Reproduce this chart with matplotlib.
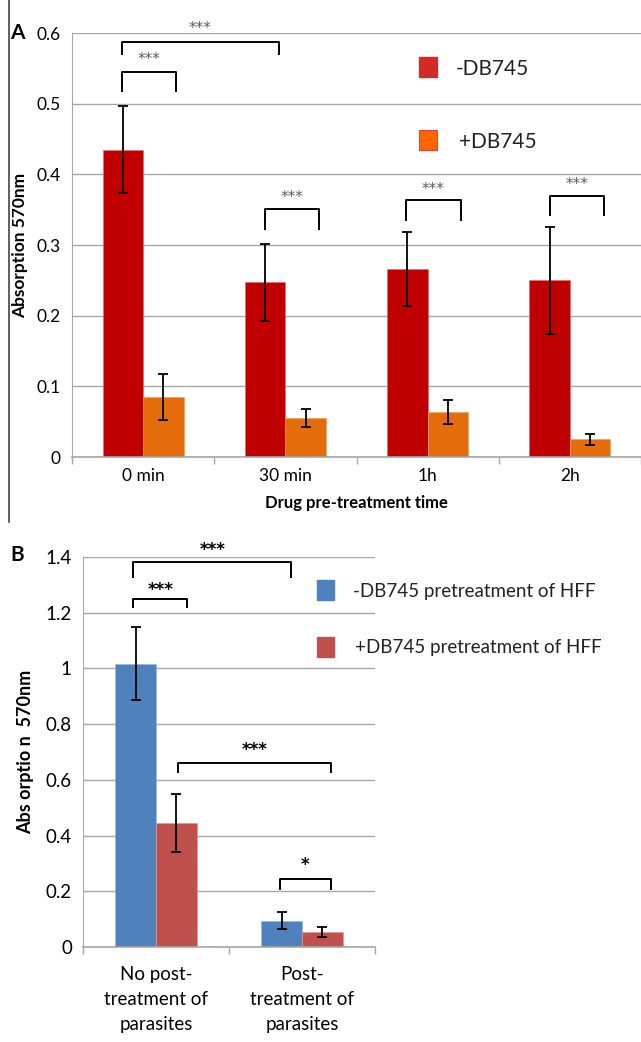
import matplotlib
matplotlib.use("Agg")
import matplotlib.pyplot as plt
from matplotlib.lines import Line2D
import numpy as np

plt.rcParams['font.family'] = ['Lato', 'DejaVu Sans']

# panel A data
times = ['0 min', '30 min', '1h', '2h']
minus_db = [0.435, 0.247, 0.266, 0.250]
minus_err = [0.062, 0.055, 0.053, 0.076]
plus_db = [0.085, 0.055, 0.063, 0.025]
plus_err = [0.033, 0.013, 0.017, 0.0075]

# panel B data
groups = ['No post-\ntreatment of\nparasites', 'Post-\ntreatment of\nparasites']
hff_minus = [1.017, 0.094]
hff_minus_err = [0.131, 0.031]
hff_plus = [0.445, 0.053]
hff_plus_err = [0.103, 0.018]

grid_col = '#a6a6a6'
W = 0.285

fig = plt.figure(figsize=(6.41, 10.42), dpi=100)


def bracket(ax, x0, x1, ytop, yleg, txt, ty, col, fs, bold=False):
    ax.plot([x0, x0, x1, x1], [yleg, ytop, ytop, yleg], color='black', lw=1.4,
            clip_on=False, solid_joinstyle='round', zorder=5)
    ax.text((x0 + x1) / 2, ty, txt, ha='center', va='center', color=col,
            fontsize=fs, fontweight='bold' if bold else 'normal', clip_on=False,
            family='DejaVu Sans')


def style_axes(ax, n):
    for s in ['top', 'right']:
        ax.spines[s].set_visible(False)
    ax.spines['left'].set_color(grid_col)
    ax.spines['bottom'].set_color(grid_col)
    ax.spines['bottom'].set_linewidth(1.2)
    ax.yaxis.grid(True, color=grid_col, lw=1.0)
    ax.set_axisbelow(True)
    ax.tick_params(axis='y', length=0, pad=8)
    ax.tick_params(axis='x', which='major', length=0, pad=8)
    ax.set_xticks(np.arange(n + 1) - 0.5, minor=True)
    ax.tick_params(axis='x', which='minor', length=5, color=grid_col, width=1.0)
    ax.set_xlim(-0.5, n - 0.5)


# ---- panel A ----
axA = fig.add_axes([72 / 641, 1 - 457 / 1042, 569 / 641, 424 / 1042])
x = np.arange(len(times))
ekw = dict(ecolor='black', capsize=3.5, elinewidth=1.3, capthick=1.3)
axA.bar(x - W / 2, minus_db, W, yerr=minus_err, color='#c00000', error_kw=ekw,
        label='-DB745', edgecolor='#e07070', linewidth=0.5)
axA.bar(x + W / 2, plus_db, W, yerr=plus_err, color='#e46c0a', error_kw=ekw,
        label='+DB745', edgecolor='#f0a060', linewidth=0.5)
axA.set_ylim(0, 0.6)
axA.set_yticks(np.arange(0, 0.61, 0.1))
axA.set_yticklabels(['0', '0.1', '0.2', '0.3', '0.4', '0.5', '0.6'], fontsize=12.5)
axA.set_xticks(x)
axA.set_xticklabels(times, fontsize=12.5)
style_axes(axA, len(times))
axA.set_xlabel('Drug pre-treatment time', fontsize=12, fontweight='bold', labelpad=8)
axA.set_ylabel('Absorption 570nm', fontsize=12.5, fontweight='bold', labelpad=6)

sc = '#5a5a5a'
bracket(axA, -0.151, 0.234, 0.5455, 0.518, '***', 0.563, sc, 11)
bracket(axA, -0.151, 0.957, 0.587, 0.570, '***', 0.606, sc, 11)
bracket(axA, 0.857, 1.234, 0.351, 0.323, '***', 0.367, sc, 11)
bracket(axA, 1.846, 2.234, 0.363, 0.335, '***', 0.379, sc, 11)
bracket(axA, 2.863, 3.237, 0.370, 0.343, '***', 0.386, sc, 11)

# legend A drawn as patches
fig.patches.append(plt.Rectangle((419 / 641, 1 - 77 / 1042), 18 / 641, 20 / 1042,
                                 transform=fig.transFigure, color='#d42a26'))
fig.patches.append(plt.Rectangle((419 / 641, 1 - 150 / 1042), 18 / 641, 20 / 1042,
                                 transform=fig.transFigure, facecolor='#ff6600',
                                 edgecolor='#e04040', lw=0.8))
fig.text(456 / 641, 1 - 69 / 1042, '-DB745', fontsize=15, va='center', color='#222222')
fig.text(459 / 641, 1 - 142 / 1042, '+DB745', fontsize=15, va='center', color='#222222')
fig.text(10 / 641, 1 - 33 / 1042, 'A', fontsize=15, fontweight='bold', va='center')
fig.add_artist(Line2D([9 / 641, 9 / 641], [1, 1 - 522 / 1042], color='#444444', lw=1.2))

# ---- panel B ----
axB = fig.add_axes([83 / 641, 1 - 947 / 1042, 292 / 641, 390 / 1042])
xb = np.arange(len(groups))
WB = 0.28
axB.bar(xb - WB / 2, hff_minus, WB, yerr=hff_minus_err, color='#4f81bd', error_kw=ekw,
        edgecolor='#9ab7dc', linewidth=0.5)
axB.bar(xb + WB / 2, hff_plus, WB, yerr=hff_plus_err, color='#c0504d', error_kw=ekw,
        edgecolor='#dc9a98', linewidth=0.5)
axB.set_ylim(0, 1.4)
axB.set_yticks(np.arange(0, 1.41, 0.2))
axB.set_yticklabels(['0', '0.2', '0.4', '0.6', '0.8', '1', '1.2', '1.4'], fontsize=13.5)
axB.set_xticks(xb)
axB.set_xticklabels(groups, fontsize=13.5, linespacing=1.55)
axB.tick_params(axis='x', which='major', pad=14)
style_axes(axB, len(groups))
axB.tick_params(axis='x', which='major', pad=14)
axB.set_ylabel('Abs orptio n  570nm', fontsize=13, fontweight='bold', labelpad=8)

bracket(axB, -0.156, 0.215, 1.251, 1.220, '***', 1.282, 'black', 12, True)
bracket(axB, -0.156, 0.928, 1.381, 1.330, '***', 1.425, 'black', 12, True)
bracket(axB, 0.148, 1.199, 0.662, 0.627, '***', 0.707, 'black', 12, True)
bracket(axB, 0.846, 1.199, 0.244, 0.210, '*', 0.295, 'black', 12, True)

fig.patches.append(plt.Rectangle((317 / 641, 1 - 600 / 1042), 17 / 641, 20 / 1042,
                                 transform=fig.transFigure, color='#4f81bd'))
fig.patches.append(plt.Rectangle((317 / 641, 1 - 657 / 1042), 17 / 641, 20 / 1042,
                                 transform=fig.transFigure, color='#c0504d'))
fig.text(353 / 641, 1 - 591 / 1042, '-DB745 pretreatment of HFF', fontsize=13.5, va='center',
         color='#222222')
fig.text(355 / 641, 1 - 647 / 1042, '+DB745 pretreatment of HFF', fontsize=13.5, va='center',
         color='#222222')
fig.text(10 / 641, 1 - 555 / 1042, 'B', fontsize=15, fontweight='bold', va='center')

fig.savefig('out.png', dpi=100)
